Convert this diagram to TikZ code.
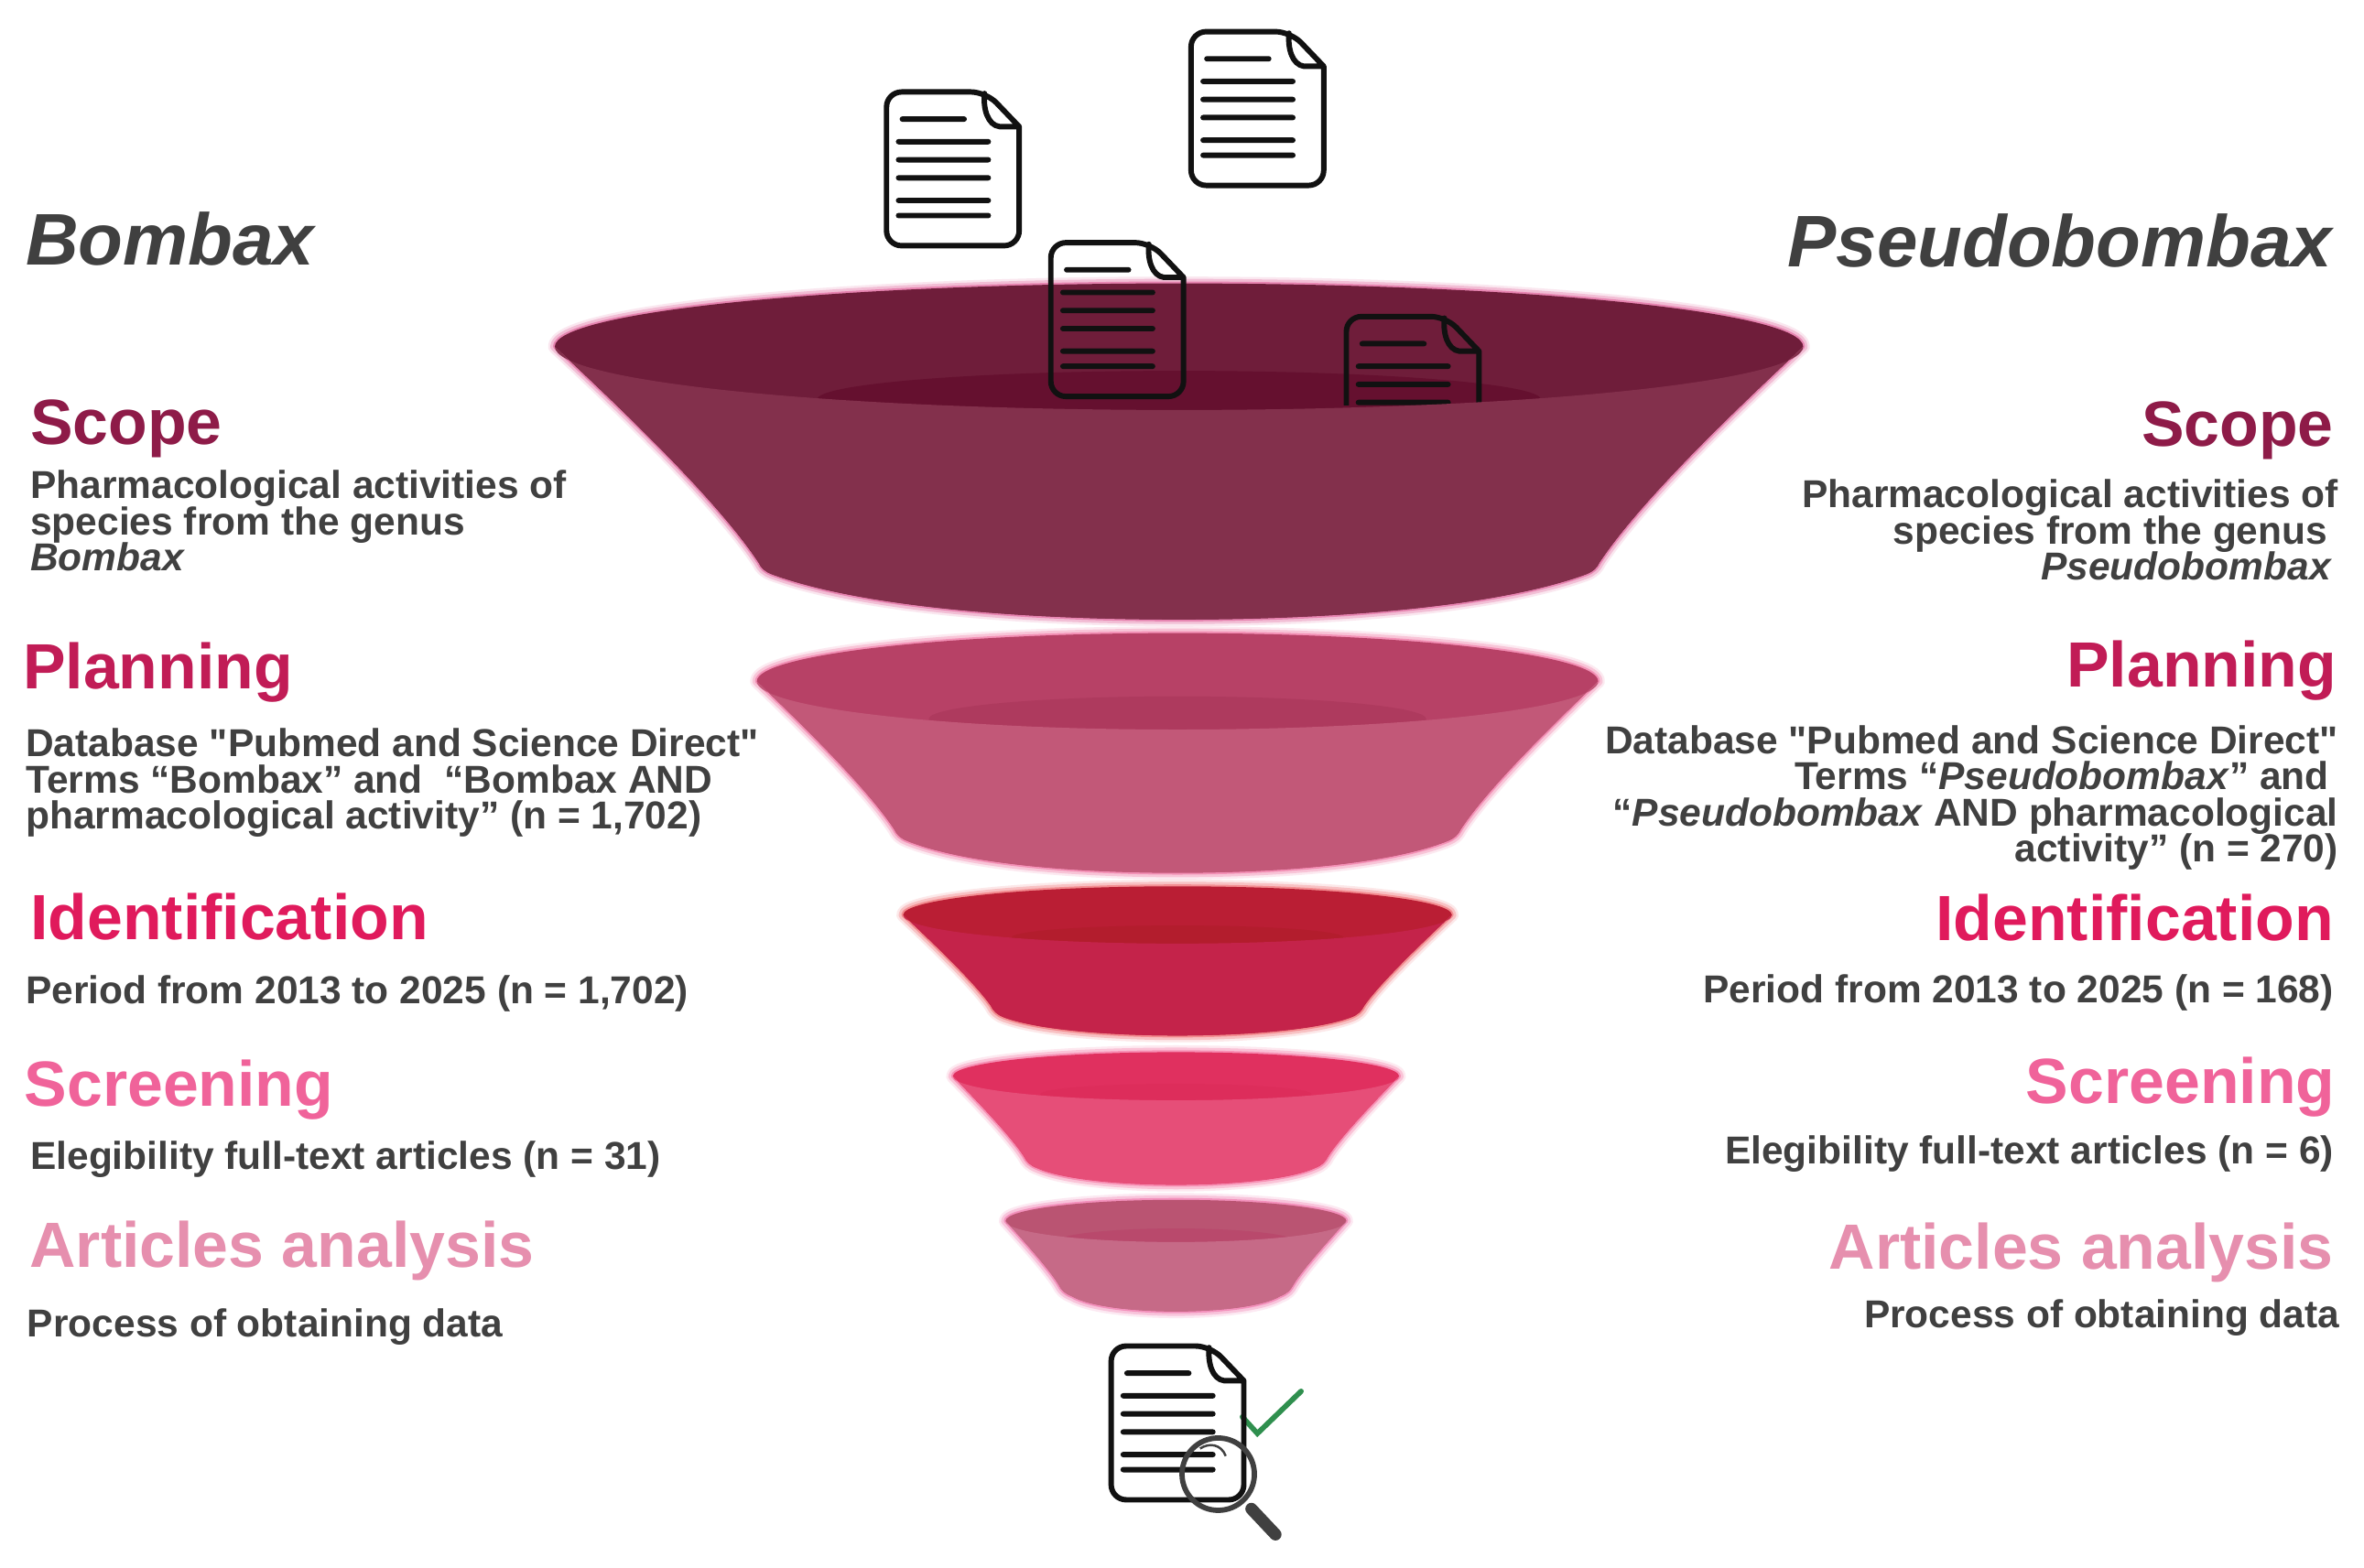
\documentclass[tikz,border=0pt]{standalone}
\usepackage{fontspec}
\setmainfont{Liberation Sans}[Ligatures=TeXOff]
\usepackage{xcolor}
\usetikzlibrary{
    calc,
    positioning
}
\definecolor{inkgrey}{HTML}{404040}
\definecolor{inkblack}{HTML}{111111}
\definecolor{checkgreen}{HTML}{2F8F4E}
\definecolor{scopehead}{HTML}{8E1B48}
\definecolor{planhead}{HTML}{C11C56}
\definecolor{identhead}{HTML}{E01A5C}
\definecolor{screenhead}{HTML}{F0639A}
\definecolor{articlehead}{HTML}{E68FAE}
\definecolor{scopetop}{HTML}{6F1D3A}
\definecolor{scopewell}{HTML}{65102F}
\definecolor{scopewall}{HTML}{83304C}
\definecolor{scoperim}{HTML}{E0609A}
\definecolor{plantop}{HTML}{B74166}
\definecolor{planwell}{HTML}{AE3A5E}
\definecolor{planwall}{HTML}{C25878}
\definecolor{planrim}{HTML}{F070A0}
\definecolor{identtop}{HTML}{BA1E34}
\definecolor{identwell}{HTML}{B31D2D}
\definecolor{identwall}{HTML}{C4234A}
\definecolor{identrim}{HTML}{F06A6E}
\definecolor{screentop}{HTML}{E0305F}
\definecolor{screenwell}{HTML}{DD2D5B}
\definecolor{screenwall}{HTML}{E64E78}
\definecolor{screenrim}{HTML}{F56E9E}
\definecolor{articletop}{HTML}{BA5472}
\definecolor{articlewell}{HTML}{B9496C}
\definecolor{articlewall}{HTML}{C66A87}
\definecolor{articlerim}{HTML}{F070A8}
\newcommand{\tightlines}{\lineskip 0pt\lineskiplimit -30pt\relax}
\newcommand{\bowlsides}[4]{
    (-#1, 0)
    .. controls ({-#1+.30*(#1-#2)}, {.26*#3}) and ({-#1+.78*(#1-#2)}, {.68*#3}) .. ({-#2-2}, {#3-5})
    .. controls (-#2, {#3-1}) and ({-#2+2}, {#3+1}) .. ({-#2+7}, {#3+3})
    .. controls ({-#2*.76}, {#3+.75*#4}) and ({-#2*.37}, {#3+#4}) .. (0, {#3+#4})
    .. controls ({#2*.37}, {#3+#4}) and ({#2*.76}, {#3+.75*#4}) .. ({#2-7}, {#3+3})
    .. controls ({#2-2}, {#3+1}) and (#2, {#3-1}) .. ({#2+2}, {#3-5})
    .. controls ({#1-.78*(#1-#2)}, {.68*#3}) and ({#1-.30*(#1-#2)}, {.26*#3}) .. (#1, 0)
}
\tikzset{
    x=1pt,
    y=-1pt,
    bowlrim/.style={
        preaction={draw=#1, line width=9pt, opacity=0.15, line join=round},
        preaction={draw=#1, line width=6pt, opacity=0.3, line join=round},
        preaction={draw=#1, line width=2.5pt, opacity=0.6, line join=round}
    },
    sheetline/.style={draw=inkblack, line width=3.6pt, line cap=round, line join=round},
    titletext/.style={inner sep=0, text=inkgrey, font=\fontsize{48.5}{50}\selectfont\bfseries\itshape},
    headtext/.style={inner sep=0, font=\fontsize{42.4}{44}\selectfont\bfseries},
    bodytext/.style={inner sep=0, text=inkgrey, font=\fontsize{25.8}{24}\selectfont\tightlines\bfseries},
    docsheet/.pic={
        \draw[sheetline]
        (89, 24) [rounded corners=10pt] -- (89, 103) -- (1, 103) -- (1, 1) -- (67, 1) [sharp corners] -- cycle
        (66, 2) .. controls (65, 12) and (68, 23) .. (76, 24) -- (89, 24)
        (11.5, 19) -- (52.5, 19)
        (9, 34) -- (68.5, 34)
        (9, 46) -- (68.5, 46)
        (9, 58) -- (68.5, 58)
        (9, 73) -- (68.5, 73)
        (9, 83) -- (68.5, 83);
    }
}

\begin{document}
\begin{tikzpicture}
    \useasboundingbox[fill=white] (0, 0) rectangle (1568, 1039.7);

    \pic (sheetTop) at (789, 20) {docsheet};
    \pic (sheetLeft) at (587, 60) {docsheet};

    \begin{scope}[shift={(782, 230)}]
        \fill[fill=scopetop, bowlrim=scoperim]
        \bowlsides{414}{277}{148}{33} arc[start angle=0, end angle=-180, x radius=414, y radius=42] -- cycle;
        \fill[scopewell] (0, 35) ellipse [x radius=240, y radius=19];
    \end{scope}

    \pic (sheetMid) at (696, 160) {docsheet};
    \begin{scope}
        \clip (880, 200) rectangle (990, 269);
        \pic (sheetRight) at (892, 209) {docsheet};
    \end{scope}

    \begin{scope}[shift={(782, 230)}]
        \fill[scopewall]
        \bowlsides{414}{277}{148}{33} arc[start angle=0, end angle=180, x radius=414, y radius=42] -- cycle;
    \end{scope}

    \begin{scope}[shift={(781, 452)}]
        \fill[fill=plantop, bowlrim=planrim]
        \bowlsides{279}{186}{103}{24} arc[start angle=0, end angle=-180, x radius=279, y radius=32] -- cycle;
        \fill[planwell] (0, 25) ellipse [x radius=165, y radius=15];
        \fill[planwall]
        \bowlsides{279}{186}{103}{24} arc[start angle=0, end angle=180, x radius=279, y radius=32] -- cycle;
    \end{scope}

    \begin{scope}[shift={(781, 607)}]
        \fill[fill=identtop, bowlrim=identrim]
        \bowlsides{182}{122}{65}{15} arc[start angle=0, end angle=-180, x radius=182, y radius=19] -- cycle;
        \fill[identwell] (0, 15) ellipse [x radius=110, y radius=8];
        \fill[identwall]
        \bowlsides{182}{122}{65}{15} arc[start angle=0, end angle=180, x radius=182, y radius=19] -- cycle;
    \end{scope}

    \begin{scope}[shift={(780, 714)}]
        \fill[fill=screentop, bowlrim=screenrim]
        \bowlsides{148}{99}{58}{14} arc[start angle=0, end angle=-180, x radius=148, y radius=16] -- cycle;
        \fill[screenwell] (0, 12) ellipse [x radius=90, y radius=7];
        \fill[screenwall]
        \bowlsides{148}{99}{58}{14} arc[start angle=0, end angle=180, x radius=148, y radius=16] -- cycle;
    \end{scope}

    \begin{scope}[shift={(780, 810)}]
        \fill[fill=articletop, bowlrim=articlerim]
        \bowlsides{113}{76}{47}{13} arc[start angle=0, end angle=-180, x radius=113, y radius=14] -- cycle;
        \fill[articlewell] (0, 14) ellipse [x radius=80, y radius=9];
        \fill[articlewall]
        \bowlsides{113}{76}{47}{13} arc[start angle=0, end angle=180, x radius=113, y radius=14] -- cycle;
    \end{scope}

    \draw[draw=checkgreen, line width=3.5pt, line cap=round, line join=miter]
    (824, 940) -- (834, 951) -- (863, 923);
    \pic (sheetFound) at (736, 892) {docsheet};
    \draw[draw=inkgrey, line width=3.5pt] (808, 978) circle [radius=24];
    \draw[draw=inkgrey, line width=1.5pt] (796, 961) .. controls (802, 957) and (810, 958) .. (813, 966);
    \draw[draw=inkgrey, line width=8pt, line cap=round] (830, 1001) -- (846, 1018);

    \node[titletext, anchor=base west] (titleBombax) at (17, 176) {Bombax};
    \node[titletext, anchor=base east] (titlePseudo) at (1547, 177) {Pseudobombax};

    \node[headtext, text=scopehead, anchor=base west] (scopeLeft) at (20, 295) {Scope};
    \node[bodytext, align=left, anchor=north west] (scopeTextLeft) at (20, 312)
    {Pharmacological activities of\\species from the genus\\\textit{Bombax}};
    \node[headtext, text=planhead, anchor=base west] (planLeft) at (15, 457) {Planning};
    \node[bodytext, align=left, anchor=north west] (planTextLeft) at (17, 483)
    {Database "Pubmed and Science Direct"\\Terms “Bombax” and~ “Bombax AND\\pharmacological activity” (n = 1,702)};
    \node[headtext, text=identhead, anchor=base west] (identLeft) at (20, 623.5) {Identification};
    \node[bodytext, anchor=base west] (identTextLeft) at (17, 666) {Period from 2013 to 2025 (n = 1,702)};
    \node[headtext, text=screenhead, anchor=base west] (screenLeft) at (16, 734) {Screening};
    \node[bodytext, anchor=base west] (screenTextLeft) at (20, 776) {Elegibility full-text articles (n = 31)};
    \node[headtext, text=articlehead, anchor=base west] (articleLeft) at (19.5, 841) {Articles analysis};
    \node[bodytext, anchor=base west] (articleTextLeft) at (18, 887) {Process of obtaining data};

    \node[headtext, text=scopehead, anchor=base east] (scopeRight) at (1548, 296) {Scope};
    \node[bodytext, align=right, anchor=north east] (scopeTextRight) at (1551, 318)
    {Pharmacological activities of\\species from the genus\kern7pt\\\textit{Pseudobombax}\kern4pt};
    \node[headtext, text=planhead, anchor=base east] (planRight) at (1550, 456) {Planning};
    \node[bodytext, align=right, anchor=north east] (planTextRight) at (1551, 481)
    {Database "Pubmed and Science Direct"\\Terms “\textit{Pseudobombax}” and\kern6pt\\“\textit{Pseudobombax} AND pharmacological\\activity” (n = 270)};
    \node[headtext, text=identhead, anchor=base east] (identRight) at (1548, 624) {Identification};
    \node[bodytext, anchor=base east] (identTextRight) at (1548, 665) {Period from 2013 to 2025 (n = 168)};
    \node[headtext, text=screenhead, anchor=base east] (screenRight) at (1549, 732) {Screening};
    \node[bodytext, anchor=base east] (screenTextRight) at (1548, 772) {Elegibility full-text articles (n = 6)};
    \node[headtext, text=articlehead, anchor=base east] (articleRight) at (1548, 842) {Articles analysis};
    \node[bodytext, anchor=base east] (articleTextRight) at (1552, 881) {Process of obtaining data};
\end{tikzpicture}
\end{document}
